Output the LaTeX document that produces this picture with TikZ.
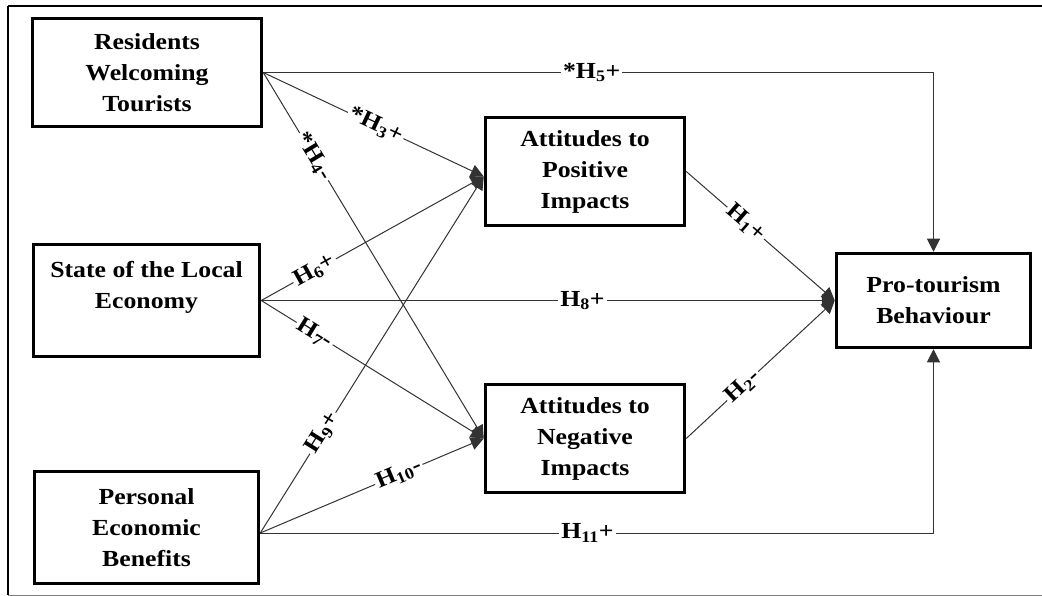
\documentclass[tikz,border=0pt]{standalone}
\usepackage{fontspec}
\setmainfont{Liberation Serif}[FakeStretch=1.12]
\usetikzlibrary{arrows.meta,calc}
\begin{document}
\begin{tikzpicture}[x=1pt,y=-1pt,
  box/.style={draw=black, line width=3.5pt, fill=white, align=center,
    font=\bfseries\fontsize{23}{31}\selectfont, inner sep=0pt},
  conn/.style={draw=black!80, line width=1pt},
  arr/.style={conn, -{Triangle[length=13pt,width=13pt]}},
  lab/.style={fill=white, inner sep=2pt, font=\bfseries\fontsize{23}{25}\selectfont}]
\useasboundingbox (0,0) rectangle (1042,596);
\draw[line width=2.5pt] (8,6) -- (1043,6);
\draw[line width=2pt] (8,6) -- (8,595);
\draw[line width=1pt, black!50] (8,595) -- (1043,595);

\node[box, minimum width=229pt, minimum height=108pt] (rw) at (147,72.5) {Residents\\Welcoming\\Tourists};
\node[box, minimum width=226pt, minimum height=112pt] (se) at (146.5,300.5) {State of the Local\\Economy\\\mbox{}};
\node[box, minimum width=224pt, minimum height=112pt] (pe) at (146.5,527.5) {Personal\\Economic\\Benefits};
\node[box, minimum width=199pt, minimum height=108pt] (ap) at (585,171.5) {Attitudes to\\Positive\\Impacts};
\node[box, minimum width=199pt, minimum height=108pt] (an) at (585,438.5) {Attitudes to\\Negative\\Impacts};
\node[box, minimum width=194pt, minimum height=94pt] (pt) at (933.5,300.5) {Pro-tourism\\Behaviour};

\coordinate (apin) at ($(ap.west)+(0,5)$);
\coordinate (peout) at ($(pe.east)+(0,5.5)$);

\draw[arr] (rw.east) -- node[lab, sloped, pos=0.51] {*H\textsubscript{3}+} (apin);
\draw[arr] (rw.east) -- node[lab, sloped, pos=0.23] {*H\textsubscript{4}-} (an.west);
\draw[arr] (rw.east) -| node[lab, pos=0.245] {*H\textsubscript{5}+} (pt.north);
\draw[arr] (se.east) -- node[lab, sloped, pos=0.24] {H\textsubscript{6}+} (apin);
\draw[arr] (se.east) -- node[lab, pos=0.56] {H\textsubscript{8}+} (pt.west);
\draw[arr] (se.east) -- node[lab, sloped, pos=0.24] {H\textsubscript{7}-} (an.west);
\draw[arr] (peout) -- node[lab, sloped, pos=0.28] {H\textsubscript{9}+} (apin);
\draw[arr] (peout) -- node[lab, sloped, pos=0.62] {H\textsubscript{10}-} (an.west);
\draw[arr] (peout) -| node[lab, pos=0.243] {H\textsubscript{11}+} (pt.south);
\draw[arr] (ap.east) -- node[lab, sloped, pos=0.40] {H\textsubscript{1}+} (pt.west);
\draw[arr] (an.east) -- node[lab, sloped, pos=0.38] {H\textsubscript{2}-} (pt.west);
\end{tikzpicture}
\end{document}
